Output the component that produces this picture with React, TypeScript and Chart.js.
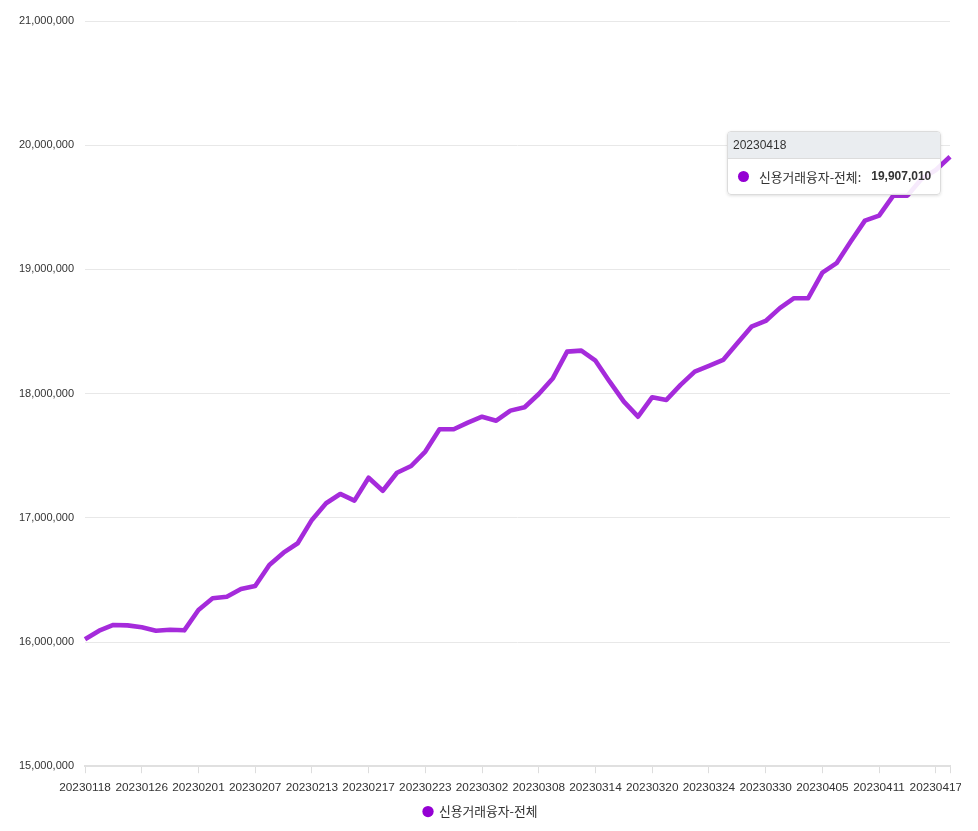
import React, { useEffect, useRef, useState } from "react";
import { Chart, registerables } from "chart.js";

Chart.register(...registerables);

const dates: string[] = [
  "20230118", "20230119", "20230120", "20230125", "20230126", "20230127", "20230130", "20230131",
  "20230201", "20230202", "20230203", "20230206", "20230207", "20230208", "20230209", "20230210",
  "20230213", "20230214", "20230215", "20230216", "20230217", "20230220", "20230221", "20230222",
  "20230223", "20230224", "20230227", "20230228", "20230302", "20230303", "20230306", "20230307",
  "20230308", "20230309", "20230310", "20230313", "20230314", "20230315", "20230316", "20230317",
  "20230320", "20230321", "20230322", "20230323", "20230324", "20230327", "20230328", "20230329",
  "20230330", "20230331", "20230403", "20230404", "20230405", "20230406", "20230407", "20230410",
  "20230411", "20230412", "20230413", "20230414", "20230417", "20230418",
];

const creditLoans: number[] = [
  16022000, 16091000, 16137000, 16134000, 16118000, 16091000, 16099000, 16094000,
  16258000, 16352000, 16365000, 16427000, 16451000, 16620000, 16719000, 16795000,
  16983000, 17117000, 17192000, 17138000, 17323000, 17218000, 17363000, 17417000,
  17533000, 17713000, 17713000, 17766000, 17814000, 17782000, 17863000, 17890000,
  17997000, 18124000, 18338000, 18346000, 18265000, 18096000, 17935000, 17814000,
  17971000, 17949000, 18070000, 18177000, 18223000, 18271000, 18406000, 18539000,
  18585000, 18688000, 18768000, 18768000, 18974000, 19050000, 19224000, 19393000,
  19433000, 19594000, 19594000, 19730000, 19800000, 19907010,
];

const seriesName = "신용거래융자-전체";
const yMin = 15000000;
const yMax = 21000000;
const yStep = 1000000;
const labelEvery = 4;
const activeIndex = 61;

const FONT = "'Liberation Sans', Arial, 'Noto Sans CJK KR', sans-serif";
const KFONT = "'Noto Sans CJK KR', 'Liberation Sans', Arial, sans-serif";

type TipState = { x: number; y: number; title: string; label: string; value: string } | null;

export default function App() {
  const canvasRef = useRef<HTMLCanvasElement | null>(null);
  const [tip, setTip] = useState<TipState>(null);

  useEffect(() => {
    const canvas = canvasRef.current;
    if (!canvas) return;
    const chart = new Chart(canvas, {
      type: "line",
      data: {
        labels: dates,
        datasets: [
          {
            label: seriesName,
            data: creditLoans,
            borderColor: "rgba(155, 20, 215, 0.9)",
            backgroundColor: "#9400d3",
            borderWidth: 4.6,
            pointRadius: 0,
            pointHoverRadius: 0,
            tension: 0,
            borderJoinStyle: "round",
            fill: false,
          },
        ],
      },
      options: {
        animation: false,
        responsive: false,
        maintainAspectRatio: false,
        events: [],
        layout: { padding: { left: 0, right: 0, top: 21, bottom: 3 } },
        scales: {
          x: {
            type: "category",
            offset: false,
            grid: {
              drawOnChartArea: false,
              drawTicks: true,
              tickLength: 7,
              color: "#dddddd",
              lineWidth: 1,
            },
            border: { display: true, color: "#e0e0e0", width: 2 },
            ticks: {
              autoSkip: false,
              maxRotation: 0,
              minRotation: 0,
              padding: 7,
              color: "#333333",
              font: { family: FONT, size: 11.8 },
              callback: (_v: any, i: number) => {
                if (i % labelEvery === 0) return dates[i];
                if (i === dates.length - 1) return "";
                return null;
              },
            },
            afterFit: (scale: any) => {
              scale.height = 29;
              scale.paddingLeft = 0;
              scale.paddingRight = 11;
            },
          },
          y: {
            min: yMin,
            max: yMax,
            grid: { color: "#e8e8e8", lineWidth: 1, drawTicks: false },
            border: { display: false },
            ticks: {
              stepSize: yStep,
              padding: 11,
              color: "#333333",
              font: { family: FONT, size: 11 },
              callback: (v: any) => Number(v).toLocaleString("en-US"),
            },
            afterFit: (scale: any) => {
              scale.width = 85;
              scale.paddingTop = 0;
              scale.paddingBottom = 0;
            },
          },
        },
        plugins: {
          legend: {
            position: "bottom",
            labels: {
              usePointStyle: true,
              boxWidth: 9,
              boxHeight: 8,
              padding: 10,
              color: "#333333",
              font: { family: KFONT, size: 12.8 },
              generateLabels: () => [
                {
                  text: seriesName,
                  fillStyle: "#9400d3",
                  strokeStyle: "#9400d3",
                  lineWidth: 0,
                  pointStyle: "circle",
                  datasetIndex: 0,
                  hidden: false,
                  fontColor: "#333333",
                } as any,
              ],
            },
          },
          tooltip: {
            enabled: false,
            external: (ctx: any) => {
              const t = ctx.tooltip;
              if (!t || t.opacity === 0 || !t.dataPoints || !t.dataPoints.length) return;
              const dp = t.dataPoints[0];
              setTip({
                x: dp.element.x,
                y: dp.element.y,
                title: String(dp.label),
                label: dp.dataset.label,
                value: Number(dp.raw).toLocaleString("en-US"),
              });
            },
          },
        },
      },
    });
    chart.tooltip?.setActiveElements([{ datasetIndex: 0, index: activeIndex }], { x: 0, y: 0 });
    chart.update();
    return () => {
      chart.destroy();
    };
  }, []);

  return (
    <div style={{ position: "absolute", left: 0, top: 0, width: 978, height: 831, background: "#fff" }}>
      <canvas ref={canvasRef} width={961} height={831} style={{ position: "absolute", left: 0, top: 0, width: 961, height: 831 }} />
      {tip && (
        <div
          style={{
            position: "absolute",
            left: tip.x - 223,
            top: tip.y - 26,
            width: 214,
            boxSizing: "border-box",
            background: "rgba(255,255,255,0.9)",
            border: "1px solid #dcdcdc",
            borderRadius: 4,
            boxShadow: "0 1px 3px rgba(0,0,0,0.12)",
            fontFamily: KFONT,
            fontSize: 12.8,
            color: "#333",
            overflow: "hidden",
            whiteSpace: "nowrap",
          }}
        >
          <div
            style={{
              background: "rgba(233,236,239,0.95)",
              height: 26,
              lineHeight: "26px",
              paddingLeft: 5,
              borderBottom: "1px solid #dcdcdc",
              fontFamily: FONT,
              fontSize: 12,
            }}
          >
            {tip.title}
          </div>
          <div style={{ height: 35, display: "flex", alignItems: "center", paddingLeft: 10 }}>
            <span
              style={{
                display: "inline-block",
                width: 11,
                height: 11,
                borderRadius: "50%",
                background: "#9400d3",
                marginRight: 10,
              }}
            />
            <span>{tip.label}:</span>
            <span style={{ fontWeight: "bold", marginLeft: 10, fontFamily: FONT, fontSize: 12 }}>{tip.value}</span>
          </div>
        </div>
      )}
    </div>
  );
}
